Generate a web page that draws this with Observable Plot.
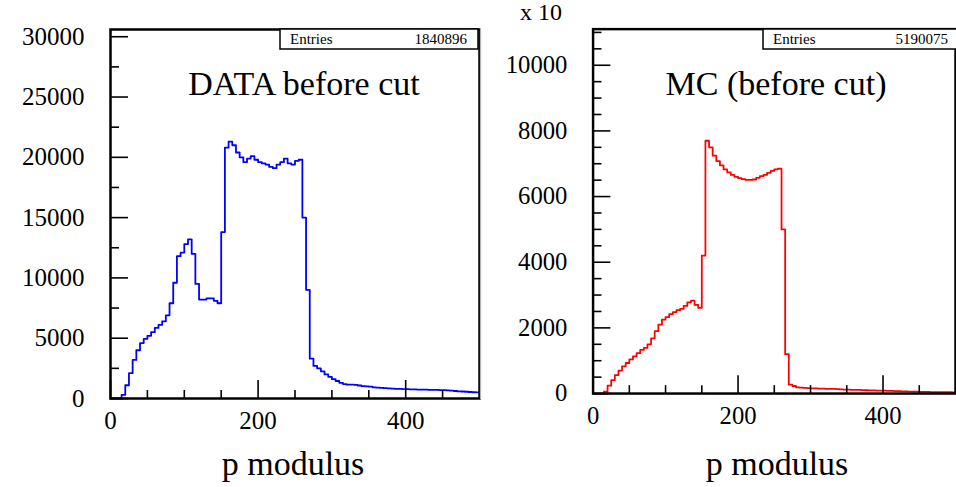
<!DOCTYPE html>
<html><head><meta charset="utf-8">
<script src="https://cdn.jsdelivr.net/npm/d3@7"></script>
<script src="https://cdn.jsdelivr.net/npm/@observablehq/plot@0.6"></script>
<style>
html,body{margin:0;padding:0;background:#fff;overflow:hidden;}
#root{position:relative;width:956px;height:487px;overflow:hidden;font-family:'Liberation Serif','Times New Roman',serif;}
.panel{position:absolute;top:0;}
#overlay{position:absolute;left:0;top:0;pointer-events:none;}
</style></head><body><div id="root"></div>
<script>
// ---- data (histogram bins of width 5 over p modulus 0..500) ----
const binStarts = d3.range(0, 500, 5);
const xEnd = 500;
const dataCounts = [
  0,0,0,300,1100,2100,3200,4000,4600,4950,
  5200,5500,5850,6100,6400,6900,7900,9600,11800,12100,
  12800,13200,12000,9500,8200,8200,8300,8300,8100,7900,
  13800,20800,21300,21000,20400,20000,19600,19900,20100,19800,
  19600,19500,19400,19200,19100,19400,19600,19900,19500,19400,
  19700,19800,15000,9000,3300,2700,2500,2250,2000,1800,
  1600,1450,1300,1200,1150,1150,1130,1080,1030,1000,
  980,930,900,880,860,840,820,800,790,780,
  770,760,750,740,740,730,720,720,710,700,
  690,670,650,620,590,580,560,540,520,510
];
const mcCounts = [
  0,0,0,60,240,410,560,700,830,930,
  1040,1130,1230,1330,1390,1500,1680,1900,2100,2250,
  2330,2420,2480,2540,2580,2670,2780,2830,2700,2610,
  4200,7700,7500,7250,7080,6950,6830,6740,6660,6600,
  6560,6530,6510,6510,6520,6570,6620,6660,6720,6780,
  6830,6850,5000,1200,270,230,190,180,170,165,
  160,155,150,148,145,142,140,135,128,122,
  118,115,112,110,105,100,98,95,92,90,
  88,84,80,76,72,68,64,60,58,55,
  52,50,48,46,44,42,41,40,39,38
];
const xMajor = [0, 200, 400];
const xMinor = [50, 100, 150, 250, 300, 350, 450];
const dataYMajor = [0, 5000, 10000, 15000, 20000, 25000, 30000];
const dataYMinor = [2500, 7500, 12500, 17500, 22500, 27500];
const mcYMajor = [0, 2000, 4000, 6000, 8000, 10000];
const mcYMinor = [500,1000,1500,2500,3000,3500,4500,5000,5500,6500,7000,7500,8500,9000,9500,10500,11000];
const titles = ["DATA before cut", "MC (before cut)"];
const entries = ["1840896", "5190075"];
const xLabel = "p modulus";
const mcScaleLabel = "x 10";

const FONT = "'Liberation Serif', 'Times New Roman', serif";

function panel({counts, yMax, yMajor, yMinor, color, width, marginLeft, marginRight}) {
  const pts = binStarts.map((x, i) => ({x, y: counts[i]}));
  pts.push({x: xEnd, y: counts[counts.length - 1]});
  return Plot.plot({
    width, height: 487,
    marginTop: 29, marginBottom: 89, marginLeft, marginRight,
    style: {fontFamily: FONT, fontSize: "25px", color: "#000", background: "transparent", overflow: "visible"},
    x: {domain: [0, xEnd], label: null},
    y: {domain: [0, yMax], label: null},
    marks: [
      Plot.line(pts, {x: "x", y: "y", curve: "step-after", stroke: color, strokeWidth: 1.8}),
      Plot.axisY(yMajor, {tickSize: -18, fill: "none", strokeWidth: 1.6, label: null}),
      Plot.axisY(yMinor, {tickSize: -9, fill: "none", strokeWidth: 1.6, label: null}),
      Plot.axisY(yMajor, {tickSize: 0, tickPadding: 26, fontSize: 25, tickFormat: d => String(d), label: null}),
      Plot.axisX(xMajor, {tickSize: -18, fill: "none", strokeWidth: 1.6, label: null}),
      Plot.axisX(xMinor, {tickSize: -8, fill: "none", strokeWidth: 1.6, label: null}),
      Plot.axisX(xMajor, {tickSize: 0, tickPadding: 13, fontSize: 25, tickFormat: d => String(d), label: null}),
      Plot.frame({stroke: "#000", strokeWidth: 2.5})
    ]
  });
}

const root = document.getElementById("root");

const left = document.createElement("div");
left.className = "panel"; left.style.left = "0px";
left.appendChild(panel({counts: dataCounts, yMax: 30600, yMajor: dataYMajor, yMinor: dataYMinor,
  color: "#0000ff", width: 480, marginLeft: 110, marginRight: 1}));
root.appendChild(left);

const right = document.createElement("div");
right.className = "panel"; right.style.left = "480px";
right.appendChild(panel({counts: mcCounts, yMax: 11100, yMajor: mcYMajor, yMinor: mcYMinor,
  color: "#ff0000", width: 482, marginLeft: 114, marginRight: 1}));
root.appendChild(right);

// overlay: titles, stat boxes, axis titles
const svg = d3.select(root).append("svg").attr("id", "overlay")
  .attr("width", 956).attr("height", 487)
  .style("font-family", FONT);

svg.append("line").attr("x1", 480.5).attr("x2", 480.5).attr("y1", 28).attr("y2", 399)
  .attr("stroke", "#b0b0b0").attr("stroke-width", 1.2);

const boxes = [{x: 280, w: 198}, {x: 763, w: 196}];
boxes.forEach((b, i) => {
  svg.append("rect").attr("x", b.x).attr("y", 29).attr("width", b.w).attr("height", 20)
    .attr("fill", "#fff").attr("stroke", "#000").attr("stroke-width", 1.5);
  svg.append("text").attr("x", b.x + 10).attr("y", 44).attr("font-size", 15).text("Entries");
  svg.append("text").attr("x", b.x + b.w - 11).attr("y", 44).attr("font-size", 15)
    .attr("text-anchor", "end").text(entries[i]);
});

svg.append("text").attr("x", 304).attr("y", 95).attr("font-size", 34)
  .attr("text-anchor", "middle").text(titles[0]);
svg.append("text").attr("x", 776).attr("y", 95).attr("font-size", 34)
  .attr("text-anchor", "middle").text(titles[1]);

svg.append("text").attr("x", 293).attr("y", 475).attr("font-size", 34)
  .attr("text-anchor", "middle").text(xLabel);
svg.append("text").attr("x", 777).attr("y", 475).attr("font-size", 34)
  .attr("text-anchor", "middle").text(xLabel);

svg.append("text").attr("x", 520).attr("y", 20).attr("font-size", 24).text(mcScaleLabel);
</script>
</body></html>
